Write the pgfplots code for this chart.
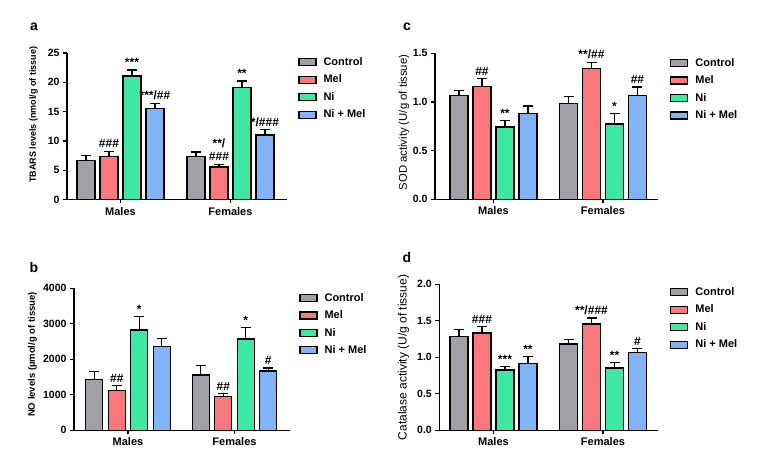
\documentclass[border=0pt]{standalone}
\usepackage{fontspec}
\setmainfont{Liberation Sans}
\usepackage{pgfplots}
\pgfplotsset{compat=1.18}
\usepackage{pgfplotstable}

\definecolor{cctrl}{RGB}{160,160,166}
\definecolor{cmel}{RGB}{250,120,122}
\definecolor{cni}{RGB}{60,232,164}
\definecolor{cnimel}{RGB}{128,180,246}

\pgfplotstableread{
g ctrl ctrlE mel melE ni niE nm nmE
0 6.66 0.85 7.39 0.86 21.05 1.05 15.47 0.93
1 7.39 0.74 5.52 0.51 19.10 1.10 11.03 0.92
}\tabA
\pgfplotstableread{
g ctrl ctrlE mel melE ni niE nm nmE
0 1437 216 1127 141 2826 376 2366 216
1 1559 272 948 85 2573 328 1671 85
}\tabB
\pgfplotstableread{
g ctrl ctrlE mel melE ni niE nm nmE
0 1.068 0.048 1.158 0.082 0.743 0.065 0.880 0.079
1 0.983 0.072 1.342 0.066 0.774 0.110 1.065 0.089
}\tabC
\pgfplotstableread{
g ctrl ctrlE mel melE ni niE nm nmE
0 1.288 0.091 1.333 0.087 0.826 0.051 0.918 0.096
1 1.183 0.064 1.457 0.082 0.854 0.073 1.068 0.051
}\tabD

\pgfplotsset{
  panel/.style={
    scale only axis,
    axis lines*=left,
    axis line style={line width=1.3pt, black},
    ymin=0,
    xtick={0,1}, xticklabels={Males,Females},
    tick align=outside, major tick length=4pt,
    tick style={line width=1.3pt, black},
    xticklabel style={font=\bfseries\fontsize{11}{13}\selectfont},
    yticklabel style={font=\bfseries\fontsize{10.5}{12}\selectfont},
    /pgf/number format/assume math mode=true,
    ylabel style={anchor=center},
    ybar, bar shift=0pt,
    legend style={draw=none, fill=none, anchor=north west, inner sep=0pt,
      font=\bfseries\fontsize{11}{12}\selectfont, row sep=4pt,
      /tikz/every odd column/.append style={column sep=5pt}},
    legend cell align=left,
    clip=false,
  },
  bars/.style={draw=black, line width=1.3pt, fill=#1,
    legend image code/.code={\draw[##1,line width=1.3pt] (0pt,-3.5pt) rectangle (17pt,3.5pt);},
    error bars/.cd, y dir=plus, y explicit,
    error bar style={line width=1.3pt, black},
    error mark options={rotate=90, line width=1.3pt, black, mark size=5pt}},
}
\tikzset{ann/.style={anchor=south, inner sep=0pt, yshift=3pt, font=\bfseries\fontsize{12}{13}\selectfont, align=center}}

\begin{document}
\begin{tikzpicture}
\useasboundingbox (0,0) rectangle (763pt,471pt);
% panel letters
\node[font=\bfseries\fontsize{14}{15}\selectfont] at (34pt,444pt) {a};
\node[font=\bfseries\fontsize{14}{15}\selectfont] at (407pt,444pt) {c};
\node[font=\bfseries\fontsize{14}{15}\selectfont] at (34pt,203.5pt) {b};
\node[font=\bfseries\fontsize{14}{15}\selectfont] at (407pt,214pt) {d};

% ---------- a ----------
\begin{axis}[panel, at={(67pt,271.5pt)}, anchor=south west,
  width=220pt, height=146.5pt, xmin=-0.486, xmax=1.514,
  ymax=25, ytick={0,5,10,15,20,25}, bar width=18pt,
  ylabel={TBARS levels (nmol/g of tissue)},
  ylabel style={at={(axis description cs:-0.152,0.58)}, font=\bfseries\fontsize{9}{11}\selectfont},
  legend style={at={(1.05,0.984)}}]
\addplot[bars=cctrl] table[x expr=\thisrow{g}-0.3136, y=ctrl, y error=ctrlE] {\tabA};
\addplot[bars=cmel] table[x expr=\thisrow{g}-0.1045, y=mel, y error=melE] {\tabA};
\addplot[bars=cni] table[x expr=\thisrow{g}+0.1045, y=ni, y error=niE] {\tabA};
\addplot[bars=cnimel] table[x expr=\thisrow{g}+0.3136, y=nm, y error=nmE] {\tabA};
\legend{Control,Mel,Ni,Ni + Mel}
\node[ann] at (axis cs:-0.1045,8.25) {\#\#\#};
\node[ann] at (axis cs:0.1045,22.1) {***};
\node[ann] at (axis cs:0.3136,16.4) {***/\#\#};
\node[ann] at (axis cs:0.8955,6.03) {**/\\\#\#\#};
\node[ann] at (axis cs:1.1045,20.2) {**};
\node[ann] at (axis cs:1.3136,11.95) {*/\#\#\#};
\end{axis}

% ---------- c ----------
\begin{axis}[panel, at={(435pt,271.7pt)}, anchor=south west,
  width=223.3pt, height=146pt, xmin=-0.534, xmax=1.505,
  ymax=1.5, ytick={0,0.5,1,1.5}, bar width=18pt,
  yticklabel style={/pgf/number format/fixed, /pgf/number format/fixed zerofill, /pgf/number format/precision=1},
  ylabel={SOD activity (U/g of tissue)},
  ylabel style={at={(axis description cs:-0.139,0.526)}, font=\fontsize{11.3}{13}\selectfont},
  legend style={at={(1.052,0.981)}}]
\addplot[bars=cctrl] table[x expr=\thisrow{g}-0.315, y=ctrl, y error=ctrlE] {\tabC};
\addplot[bars=cmel] table[x expr=\thisrow{g}-0.105, y=mel, y error=melE] {\tabC};
\addplot[bars=cni] table[x expr=\thisrow{g}+0.105, y=ni, y error=niE] {\tabC};
\addplot[bars=cnimel] table[x expr=\thisrow{g}+0.315, y=nm, y error=nmE] {\tabC};
\legend{Control,Mel,Ni,Ni + Mel}
\node[ann] at (axis cs:-0.105,1.24) {\#\#};
\node[ann] at (axis cs:0.105,0.808) {**};
\node[ann] at (axis cs:0.895,1.408) {**/\#\#};
\node[ann] at (axis cs:1.105,0.884) {*};
\node[ann] at (axis cs:1.315,1.154) {\#\#};
\end{axis}

% ---------- b ----------
\begin{axis}[panel, at={(74pt,40.7pt)}, anchor=south west,
  width=216pt, height=142pt, xmin=-0.507, xmax=1.521,
  ymax=4000, ytick={0,1000,2000,3000,4000}, bar width=17pt,
  yticklabel style={/pgf/number format/1000 sep={}},
  ylabel={NO levels (µmol/g of tissue)},
  ylabel style={at={(axis description cs:-0.192,0.534)}, font=\bfseries\fontsize{9.5}{11}\selectfont},
  legend style={at={(1.042,0.981)}}]
\addplot[bars=cctrl] table[x expr=\thisrow{g}-0.317, y=ctrl, y error=ctrlE] {\tabB};
\addplot[bars=cmel] table[x expr=\thisrow{g}-0.1056, y=mel, y error=melE] {\tabB};
\addplot[bars=cni] table[x expr=\thisrow{g}+0.1056, y=ni, y error=niE] {\tabB};
\addplot[bars=cnimel] table[x expr=\thisrow{g}+0.317, y=nm, y error=nmE] {\tabB};
\legend{Control,Mel,Ni,Ni + Mel}
\node[ann] at (axis cs:-0.1056,1268) {\#\#};
\node[ann] at (axis cs:0.1056,3202) {*};
\node[ann] at (axis cs:0.8944,1033) {\#\#};
\node[ann] at (axis cs:1.1056,2901) {*};
\node[ann] at (axis cs:1.317,1756) {\#};
\end{axis}

% ---------- d ----------
\begin{axis}[panel, at={(439.3pt,40.7pt)}, anchor=south west,
  width=219pt, height=146pt, xmin=-0.495, xmax=1.505,
  ymax=2, ytick={0,0.5,1,1.5,2}, bar width=18pt,
  yticklabel style={/pgf/number format/fixed, /pgf/number format/fixed zerofill, /pgf/number format/precision=1},
  ylabel={Catalase activity (U/g of tissue)},
  ylabel style={at={(axis description cs:-0.163,0.499)}, font=\fontsize{12}{14}\selectfont},
  legend style={at={(1.053,0.993)}}]
\addplot[bars=cctrl] table[x expr=\thisrow{g}-0.315, y=ctrl, y error=ctrlE] {\tabD};
\addplot[bars=cmel] table[x expr=\thisrow{g}-0.105, y=mel, y error=melE] {\tabD};
\addplot[bars=cni] table[x expr=\thisrow{g}+0.105, y=ni, y error=niE] {\tabD};
\addplot[bars=cnimel] table[x expr=\thisrow{g}+0.315, y=nm, y error=nmE] {\tabD};
\legend{Control,Mel,Ni,Ni + Mel}
\node[ann] at (axis cs:-0.105,1.420) {\#\#\#};
\node[ann] at (axis cs:0.105,0.877) {***};
\node[ann] at (axis cs:0.315,1.014) {**};
\node[ann] at (axis cs:0.895,1.539) {**/\#\#\#};
\node[ann] at (axis cs:1.105,0.927) {**};
\node[ann] at (axis cs:1.315,1.119) {\#};
\end{axis}
\end{tikzpicture}
\end{document}
